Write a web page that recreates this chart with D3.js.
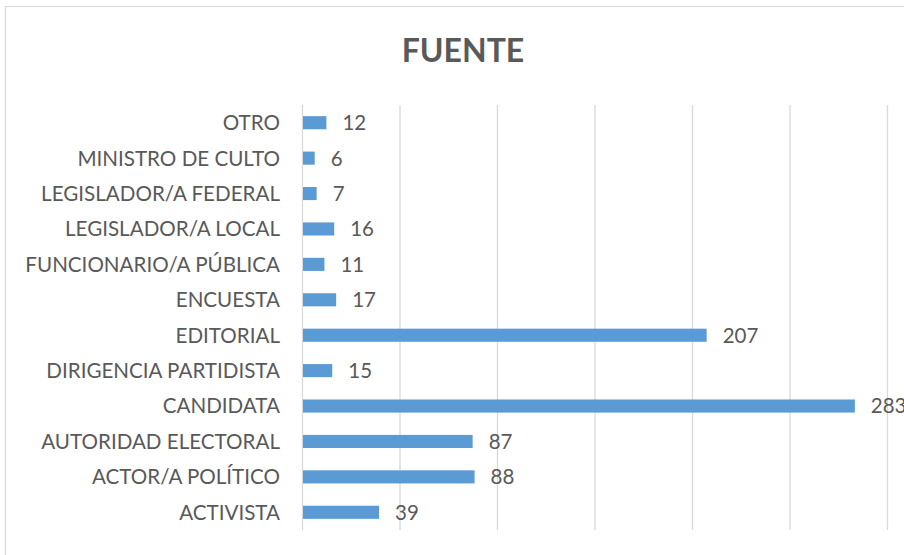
<!DOCTYPE html>
<html lang="es">
<head>
  <meta charset="UTF-8">
  <title>FUENTE</title>
  <script src="https://d3js.org/d3.v7.min.js"></script>
  <style>
    body { margin: 0; background: #fff; }
    svg { display: block; }
    text { font-family: Lato, "Open Sans", sans-serif; fill: #595959; }
    .bar { fill: #5B9BD5; }
    .grid line { stroke: #D9D9D9; stroke-width: 1.3; }
  </style>
</head>
<body>
  <svg width="904" height="555"></svg>

  <script>
    // Data (top to bottom as shown)
    const categories = [
      "OTRO", "MINISTRO DE CULTO", "LEGISLADOR/A FEDERAL", "LEGISLADOR/A LOCAL",
      "FUNCIONARIO/A PÚBLICA", "ENCUESTA", "EDITORIAL", "DIRIGENCIA PARTIDISTA",
      "CANDIDATA", "AUTORIDAD ELECTORAL", "ACTOR/A POLÍTICO", "ACTIVISTA"
    ];
    const values = [12, 6, 7, 16, 11, 17, 207, 15, 283, 87, 88, 39];
    const xTicks = [0, 50, 100, 150, 200, 250, 300];

    const data = categories.map((c, i) => ({ name: c, value: values[i] }));

    const width = 904;
    const height = 555;
    const margin = { top: 105, right: 17, bottom: 25, left: 302 };

    const svg = d3.select("svg");

    // Chart area border (right/bottom run off the picture)
    svg.append("rect")
      .attr("x", 5.5)
      .attr("y", 6.5)
      .attr("width", 930)
      .attr("height", 600)
      .attr("fill", "none")
      .attr("stroke", "#D9D9D9")
      .attr("stroke-width", 1.2);

    // Title
    svg.append("text")
      .attr("x", 463)
      .attr("y", 62)
      .attr("text-anchor", "middle")
      .style("font-size", "32px")
      .style("font-weight", "bold")
      .text("FUENTE");

    // Scales
    const x = d3.scaleLinear()
      .domain([0, 300])
      .range([margin.left, width - margin.right]);

    const y = d3.scaleBand()
      .domain(categories)
      .range([margin.top, height - margin.bottom])
      .paddingInner(0.63)
      .paddingOuter(0.315);

    // Gridlines
    const grid = svg.append("g")
      .attr("class", "grid")
      .attr("transform", `translate(0,${height - margin.bottom})`)
      .call(d3.axisBottom(x)
        .tickValues(xTicks)
        .tickSize(-(height - margin.bottom - margin.top))
        .tickFormat(""));
    grid.select(".domain").remove();

    // Category labels
    svg.append("g")
      .selectAll("text")
      .data(data)
      .join("text")
      .attr("x", margin.left - 22)
      .attr("y", d => y(d.name) + y.bandwidth() / 2)
      .attr("dy", "0.36em")
      .attr("text-anchor", "end")
      .style("font-size", "20.6px")
      .text(d => d.name);

    // Bars
    svg.selectAll(".bar")
      .data(data)
      .join("rect")
      .attr("class", "bar")
      .attr("x", x(0) + 1)
      .attr("y", d => y(d.name))
      .attr("width", d => x(d.value) - x(0))
      .attr("height", y.bandwidth());

    // Value labels
    svg.selectAll(".label")
      .data(data)
      .join("text")
      .attr("class", "label")
      .attr("x", d => x(d.value) + 17)
      .attr("y", d => y(d.name) + y.bandwidth() / 2)
      .attr("dy", "0.36em")
      .style("font-size", "20.5px")
      .text(d => d.value);
  </script>
</body>
</html>
